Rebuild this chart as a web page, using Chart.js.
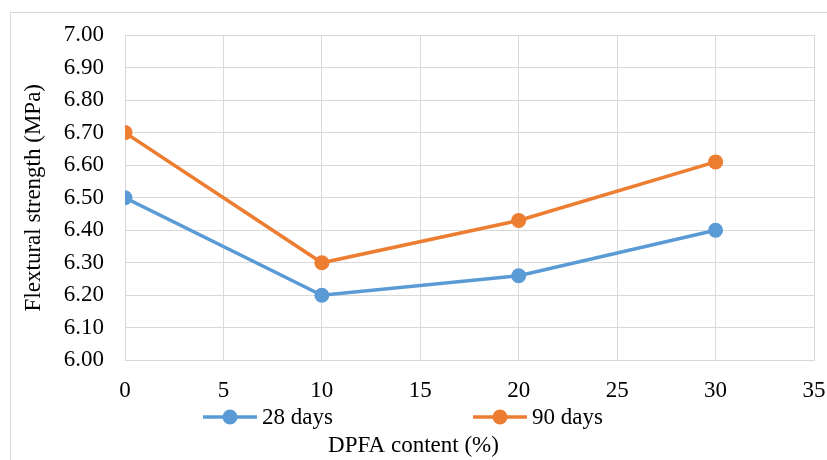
<!DOCTYPE html>
<html>
<head>
<meta charset="utf-8">
<script src="https://cdn.jsdelivr.net/npm/chart.js@4.4.1/dist/chart.umd.min.js"></script>
<style>
  body { margin: 0; background: #fff; }
  #wrap { position: relative; width: 827px; height: 460px; overflow: hidden; }
  #frame { position: absolute; left: 10px; top: 12px; width: 830px; height: 460px; border: 1px solid #d9d9d9; }
  canvas { position: absolute; left: 0; top: 0; }
</style>
</head>
<body>
<div id="wrap">
  <div id="frame"></div>
  <canvas id="chart" width="827" height="460"></canvas>
</div>
<script>
// DPFA content (%) vs flexural strength (MPa)
const dpfa = [0, 10, 20, 30];
const days28 = [6.50, 6.20, 6.26, 6.40];
const days90 = [6.70, 6.30, 6.43, 6.61];
const seriesNames = ['28 days', '90 days'];
const seriesColors = ['#5B9BD5', '#ED7D31'];

const FONT = '"Liberation Serif", "Times New Roman", serif';

const toPoints = (ys) => dpfa.map((x, i) => ({ x: x, y: ys[i] }));

// legend drawn as line + marker, spaced like the Excel original
const lineLegend = {
  id: 'lineLegend',
  afterDraw(chart, args, opts) {
    const ctx = chart.ctx;
    ctx.save();
    ctx.font = '23px ' + FONT;
    ctx.textBaseline = 'middle';
    ctx.textAlign = 'left';
    chart.data.datasets.forEach((ds, i) => {
      const x0 = opts.left + i * opts.step;
      const y = opts.y;
      ctx.strokeStyle = ds.borderColor;
      ctx.lineWidth = ds.borderWidth;
      ctx.beginPath();
      ctx.moveTo(x0, y);
      ctx.lineTo(x0 + 54, y);
      ctx.stroke();
      ctx.fillStyle = ds.backgroundColor;
      ctx.beginPath();
      ctx.arc(x0 + 27, y, ds.pointRadius, 0, Math.PI * 2);
      ctx.fill();
      ctx.fillStyle = '#000';
      ctx.fillText(ds.label, x0 + 59, y + 1);
    });
    ctx.restore();
  }
};

function makeDataset(i, ys) {
  return {
    label: seriesNames[i],
    data: toPoints(ys),
    borderColor: seriesColors[i],
    backgroundColor: seriesColors[i],
    borderWidth: 3.5,
    pointRadius: 7.5,
    pointBorderWidth: 0,
    pointHoverRadius: 7.5,
    tension: 0,
  };
}

const ctx = document.getElementById('chart').getContext('2d');
const chart = new Chart(ctx, {
  type: 'line',
  data: {
    datasets: [makeDataset(0, days28), makeDataset(1, days90)],
  },
  options: {
    responsive: false,
    animation: false,
    layout: { padding: { left: 0, right: 0, top: 35, bottom: 0 } },
    plugins: {
      legend: { display: false },
      tooltip: { enabled: false },
      title: {
        display: true,
        position: 'bottom',
        text: 'DPFA content (%)',
        color: '#000',
        font: { family: FONT, size: 23, weight: 'normal' },
        padding: { top: 27, bottom: 0 },
      },
      lineLegend: { left: 203, step: 270, y: 417 },
    },
    scales: {
      x: {
        type: 'linear',
        min: 0,
        max: 35,
        ticks: { stepSize: 5, padding: 17, color: '#000', font: { family: FONT, size: 23 } },
        grid: { color: '#d9d9d9', lineWidth: 1, drawTicks: false },
        border: { color: '#d9d9d9', width: 1 },
        afterFit: (scale) => {
          scale.height = 45;
          scale.paddingLeft = 0;
          scale.paddingRight = 13;
        },
      },
      y: {
        min: 6,
        max: 7,
        ticks: {
          stepSize: 0.1,
          padding: 21,
          color: '#000',
          font: { family: FONT, size: 23 },
          callback: (v) => Number(v).toFixed(2),
        },
        grid: { color: '#d9d9d9', lineWidth: 1, drawTicks: false },
        border: { color: '#d9d9d9', width: 1 },
        title: {
          display: true,
          text: 'Flextural strength (MPa)',
          color: '#000',
          font: { family: FONT, size: 23 },
          padding: { top: 20, bottom: 0 },
        },
        afterFit: (scale) => { scale.width = 125; },
      },
    },
  },
  plugins: [lineLegend],
});
</script>
</body>
</html>
